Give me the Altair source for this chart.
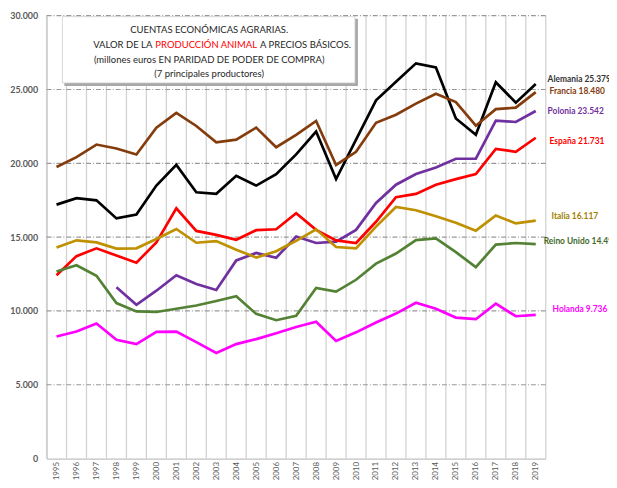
import altair as alt
import pandas as pd

years = list(range(1995, 2020))

alemania = [17.2, 17.64, 17.49, 16.27, 16.53, 18.49, 19.89, 18.04, 17.93, 19.15, 18.49, 19.27,
            20.6, 22.15, 18.93, 21.6, 24.27, 25.53, 26.77, 26.49, 23.04, 21.93, 25.49, 24.11, 25.379]
francia = [19.75, 20.42, 21.27, 21.0, 20.6, 22.42, 23.42, 22.53, 21.42, 21.6, 22.42, 21.09,
           21.93, 22.87, 19.89, 20.78, 22.75, 23.29, 24.04, 24.71, 24.15, 22.55, 23.67, 23.77, 24.82]
polonia = [None, None, None, 11.6, 10.42, 11.37, 12.42, 11.82, 11.42, 13.42, 13.93, 13.6,
           15.04, 14.6, 14.69, 15.49, 17.31, 18.55, 19.27, 19.71, 20.31, 20.31, 22.89, 22.8, 23.542]
espana = [12.42, 13.71, 14.24, 13.75, 13.27, 14.64, 16.95, 15.42, 15.15, 14.82, 15.47, 15.53,
          16.62, 15.49, 14.78, 14.6, 16.04, 17.71, 17.93, 18.55, 18.93, 19.27, 20.98, 20.78, 21.731]
italia = [14.29, 14.78, 14.64, 14.22, 14.24, 14.87, 15.55, 14.62, 14.73, 14.15, 13.62, 14.04,
          14.75, 15.53, 14.33, 14.24, 15.71, 17.04, 16.82, 16.42, 15.97, 15.44, 16.47, 15.93, 16.117]
reino_unido = [12.67, 13.09, 12.38, 10.53, 9.97, 9.93, 10.15, 10.37, 10.67, 11.0, 9.8, 9.37,
               9.67, 11.55, 11.31, 12.11, 13.2, 13.89, 14.8, 14.91, 13.98, 12.97, 14.49, 14.6, 14.53]
holanda = [8.27, 8.6, 9.15, 8.04, 7.75, 8.58, 8.6, 7.89, 7.15, 7.75, 8.09, 8.49,
           8.91, 9.27, 7.97, 8.55, 9.22, 9.82, 10.55, 10.15, 9.55, 9.44, 10.49, 9.64, 9.736]

series_names = ["Alemania", "Francia", "Polonia", "España", "Italia", "Reino Unido", "Holanda"]
series_values = [alemania, francia, polonia, espana, italia, reino_unido, holanda]
line_colors = ["#000000", "#843C0C", "#7030A0", "#FF0000", "#BF9000", "#548235", "#FF00FF"]
label_texts = ["Alemania 25.379", "Francia 18.480", "Polonia 23.542", "España 21.731",
               "Italia 16.117", "Reino Unido 14.493", "Holanda 9.736"]
label_colors = ["#333333", "#843C0C", "#7030A0", "#FF0000", "#A08000", "#3F6A28", "#FF00FF"]
label_dx = [12, 14, 12, 14, 16, 8, 17]
label_dy = [-5, -1, 0, 3, -5, -3, -6]

title_lines = ["CUENTAS ECONÓMICAS AGRARIAS.",
               "(millones euros EN PARIDAD DE PODER DE COMPRA)",
               "(7 principales productores)"]
title_line2 = ["VALOR DE LA", "PRODUCCIÓN ANIMAL", "A PRECIOS BÁSICOS."]

rows = []
for name, vals in zip(series_names, series_values):
    for yr, v in zip(years, vals):
        if v is not None:
            rows.append({"serie": name, "year": yr, "value": v * 1000})
df = pd.DataFrame(rows)

bounds = pd.DataFrame({"year": [y - 0.5 for y in years] + [years[-1] + 0.5]})
ygrid = pd.DataFrame({"value": [5000, 10000, 15000, 20000, 25000, 30000]})

FONT = "Lato"
W, H = 505, 448

xscale = alt.Scale(domain=[years[0] - 0.5, years[-1] + 0.5], nice=False, zero=False)
yscale = alt.Scale(domain=[0, 30000], nice=False)

xaxis = alt.Axis(values=years, format="d", labelAngle=-90, labelFontSize=8,
                 labelColor="#595959", labelFont=FONT, ticks=False, grid=False,
                 domainColor="#c0c0c0", domainWidth=1.3, labelPadding=3, labelFlush=False,
                 labelOverlap=False, title=None)
yaxis = alt.Axis(values=[0, 5000, 10000, 15000, 20000, 25000, 30000],
                 labelExpr="replace(format(datum.value, ','), ',', '.')",
                 labelFontSize=9, labelFontWeight="bold", labelColor="#595959",
                 labelFont=FONT, ticks=False, domainColor="#c0c0c0", domainWidth=1.3,
                 grid=False, labelPadding=9, title=None)

vgrid = alt.Chart(bounds).mark_rule(color="#d2d2d2", strokeWidth=1.3).encode(
    x=alt.X("year:Q", scale=xscale, axis=xaxis),
    y=alt.value(0), y2=alt.value(H)
)

hgrid = alt.Chart(ygrid).mark_rule(color="#999999", strokeWidth=1.2,
                                   strokeDash=[5, 2, 1, 2]).encode(
    y=alt.Y("value:Q", scale=yscale, axis=yaxis),
    x=alt.value(0), x2=alt.value(W)
)

lines = alt.Chart(df).mark_line(strokeWidth=2.7).encode(
    x=alt.X("year:Q", scale=xscale, axis=xaxis),
    y=alt.Y("value:Q", scale=yscale, axis=yaxis),
    color=alt.Color("serie:N", scale=alt.Scale(domain=series_names, range=line_colors),
                    legend=None),
    detail="serie:N"
)

labels = []
for name, txt, col, dx, dy, vals in zip(series_names, label_texts, label_colors,
                                         label_dx, label_dy, series_values):
    ldf = pd.DataFrame({"year": [years[-1]], "value": [vals[-1] * 1000], "t": [txt]})
    labels.append(
        alt.Chart(ldf).mark_text(align="left", baseline="middle", fontSize=8.5,
                                 fontWeight="bold", font=FONT, color=col, dx=dx, dy=dy)
        .encode(x=alt.X("year:Q", scale=xscale, axis=xaxis),
                y=alt.Y("value:Q", scale=yscale, axis=yaxis),
                text="t:N")
    )

one = pd.DataFrame({"a": [0]})
box_shadow = alt.Chart(one).mark_rect(color="#a8a8a8").encode(
    x=alt.value(18), x2=alt.value(315), y=alt.value(3), y2=alt.value(71))
box = alt.Chart(one).mark_rect(color="white", stroke="#cfcfcf", strokeWidth=0.8).encode(
    x=alt.value(16), x2=alt.value(312), y=alt.value(1), y2=alt.value(68))

TFS = 9.6
tcx = 164.5
def ttext(txt, x, y, align="center", color="#262626"):
    return alt.Chart(one).mark_text(fontSize=TFS, font=FONT, color=color, align=align,
                                    baseline="middle").encode(
        x=alt.value(x), y=alt.value(y), text=alt.value(txt))

t1 = ttext(title_lines[0], tcx, 15)
t2a = ttext(title_line2[0], 107, 29.7, align="right")
t2b = ttext(title_line2[1], 161.5, 29.7, color="#FF0000")
t2c = ttext(title_line2[2], 216, 29.7, align="left")
t3 = ttext(title_lines[1], tcx, 44.7)
t4 = ttext(title_lines[2], tcx, 58.7)

chart = alt.layer(vgrid, hgrid, lines, *labels, box_shadow, box,
                  t1, t2a, t2b, t2c, t3, t4).properties(
    width=W, height=H,
    autosize=alt.AutoSizeParams(type="none"),
    padding={"left": 39, "top": 5, "right": 64, "bottom": 25},
    background="white"
).configure_view(stroke=None)

chart.save("out.html", embed_options={"renderer": "svg", "actions": False})
